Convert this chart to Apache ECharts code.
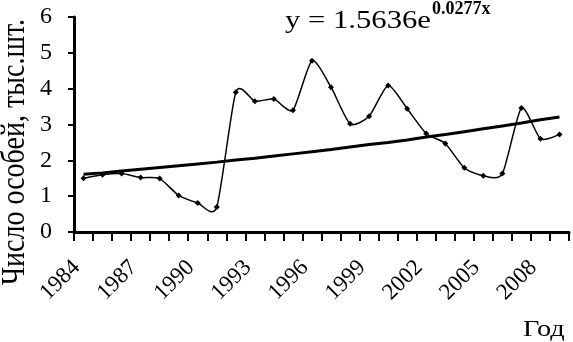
<!DOCTYPE html>
<html><head><meta charset="utf-8">
<script src="https://cdn.jsdelivr.net/npm/echarts@6/dist/echarts.min.js"></script>
<style>html,body{margin:0;padding:0;background:#fff}#c{width:573px;height:342px}</style>
</head><body><div id="c"></div>
<script>
const years = ['1984','1985','1986','1987','1988','1989','1990','1991','1992','1993','1994','1995','1996','1997','1998','1999','2000','2001','2002','2003','2004','2005','2006','2007','2008','2009'];
const counts = [1.50,1.60,1.63,1.52,1.49,1.02,0.81,0.70,3.90,3.65,3.71,3.40,4.78,4.04,3.02,3.23,4.09,3.44,2.75,2.47,1.79,1.57,1.63,3.46,2.60,2.72];
const trend = [1.61,1.65,1.70,1.75,1.80,1.85,1.90,1.95,2.01,2.06,2.12,2.18,2.24,2.30,2.37,2.44,2.50,2.57,2.65,2.72,2.80,2.88,2.96,3.04,3.13,3.21];
const xLabelYears = ['1984','1987','1990','1993','1996','1999','2002','2005','2008'];
const yTicks = [0,1,2,3,4,5,6];
const equationMain = 'y = 1.5636e';
const equationExp = '0.0277x';
const yTitle = 'Число особей, тыс.шт.';
const xTitle = 'Год';

const font = '"Liberation Serif", "DejaVu Serif", serif';
const stretch = 1.18;
const tension = 0.11;

function smoothPath(params, api) {
  if (params.dataIndex !== 0) return null;
  const p = counts.map((v, i) => api.coord([i, v]));
  let d = 'M' + p[0][0] + ' ' + p[0][1];
  for (let i = 0; i < p.length - 1; i++) {
    const p0 = p[Math.max(i - 1, 0)], p1 = p[i], p2 = p[i + 1], p3 = p[Math.min(i + 2, p.length - 1)];
    const c1 = [p1[0] + (p2[0] - p0[0]) * tension, p1[1] + (p2[1] - p0[1]) * tension];
    const c2 = [p2[0] - (p3[0] - p1[0]) * tension, p2[1] - (p3[1] - p1[1]) * tension];
    d += ' C' + c1[0] + ' ' + c1[1] + ' ' + c2[0] + ' ' + c2[1] + ' ' + p2[0] + ' ' + p2[1];
  }
  return {type: 'path', shape: {pathData: d}, style: {stroke: '#000', lineWidth: 1.5, fill: null}, z2: 3};
}

function xLabel(params, api) {
  const idx = api.value(0);
  const c = api.coord([idx, 0]);
  return {type: 'text', x: c[0] - 7, y: c[1] + 32, rotation: Math.PI / 4,
    style: {text: years[idx], font: '23px ' + font, fill: '#000', align: 'right', verticalAlign: 'middle'}};
}

const chart = echarts.init(document.getElementById('c'), null, {renderer: 'canvas'});
chart.setOption({
  animation: false,
  backgroundColor: '#fff',
  grid: {left: 74, top: 17, width: 495, height: 215, containLabel: false},
  xAxis: {
    type: 'category', data: years, boundaryGap: true,
    axisLine: {lineStyle: {color: '#000', width: 3}},
    axisTick: {show: true, interval: 0, length: 9, lineStyle: {color: '#000', width: 2}},
    axisLabel: {show: false}
  },
  yAxis: {
    type: 'value', min: yTicks[0], max: yTicks[yTicks.length-1], interval: 1,
    splitLine: {show: false},
    axisLine: {show: true, lineStyle: {color: '#000', width: 3}},
    axisTick: {show: true, length: 6, lineStyle: {color: '#000', width: 2}},
    axisLabel: {margin: 22, color: '#000', fontFamily: font, fontSize: 24}
  },
  series: [
    {type: 'custom', renderItem: smoothPath, data: [0], silent: true, z: 3, clip: false},
    {type: 'line', data: counts, symbol: 'diamond', symbolSize: 6,
     lineStyle: {opacity: 0}, itemStyle: {color: '#000'}, z: 4},
    {type: 'line', data: trend, smooth: false, symbol: 'none',
     lineStyle: {color: '#000', width: 3}, z: 2},
    {type: 'custom', renderItem: xLabel, silent: true, clip: false,
     data: xLabelYears.map(y => [years.indexOf(y), 0])}
  ],
  graphic: [
    {type: 'text', x: 15, y: 152, rotation: Math.PI / 2, scaleY: stretch,
     style: {text: yTitle, font: '28px ' + font, fill: '#000', align: 'center', verticalAlign: 'middle'}},
    {type: 'text', x: 523, y: 318, scaleX: stretch, style: {text: xTitle, font: '24px ' + font, fill: '#000'}},
    {type: 'text', x: 285, y: 8, scaleX: stretch, style: {text: equationMain, font: '26px ' + font, fill: '#000'}},
    {type: 'text', x: 432, y: 0, style: {text: equationExp, font: 'bold 18px ' + font, fill: '#000'}}
  ]
});
</script></body></html>
